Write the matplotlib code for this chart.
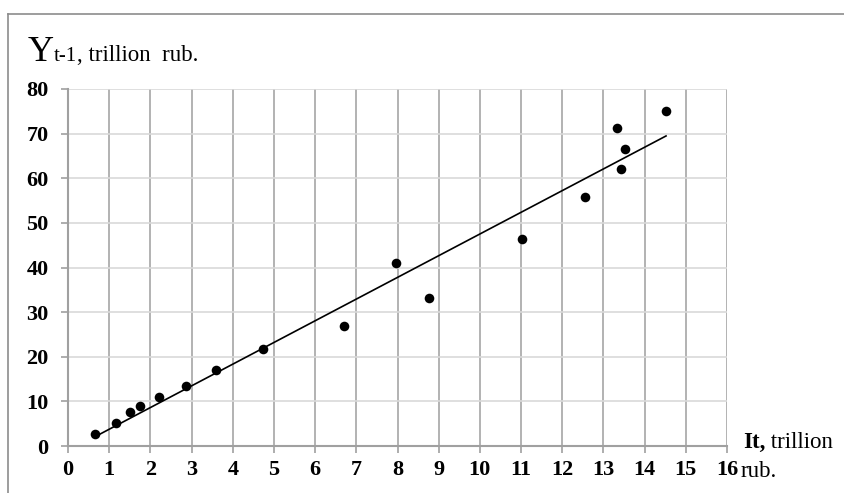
import numpy as np
import matplotlib
matplotlib.use("Agg")
import matplotlib.pyplot as plt
from matplotlib.lines import Line2D

# Data
x_vals = [0.66, 1.17, 1.50, 1.75, 2.20, 2.86, 3.60, 4.73, 6.70, 7.96, 8.76,
          11.02, 12.55, 13.33, 13.43, 13.52, 14.52]
y_vals = [2.7, 5.1, 7.6, 8.9, 10.9, 13.4, 17.0, 21.7, 27.0, 41.1, 33.1,
          46.3, 55.9, 71.3, 62.1, 66.6, 75.1]
x_ticks = list(range(0, 17))
y_ticks = list(range(0, 81, 10))

serif = ["Liberation Serif", "DejaVu Serif"]
W, H = 845, 493

fig = plt.figure(figsize=(8.45, 4.93), dpi=100)
ax = fig.add_axes([68 / W, 1 - 446 / H, (727 - 68) / W, (446 - 89) / H])

ax.set_xlim(0, 16)
ax.set_ylim(0, 80)

# grid
for xv in x_ticks[1:]:
    ax.axvline(xv, color="#a6a6a6", lw=1.2, zorder=1)
for yv in y_ticks[1:]:
    ax.axhline(yv, color="#d9d9d9", lw=1.2, zorder=1)

# trend line (least squares)
coef = np.polyfit(x_vals, y_vals, 1)
xs = np.array([min(x_vals), max(x_vals)])
ax.plot(xs, np.polyval(coef, xs), color="black", lw=1.2, zorder=3)

ax.scatter(x_vals, y_vals, s=48, color="black", zorder=4, linewidths=0)

for side in ["top", "right"]:
    ax.spines[side].set_visible(False)
for side in ["left", "bottom"]:
    ax.spines[side].set_color("#a0a0a0")
    ax.spines[side].set_linewidth(1.5)

ax.set_xticks(x_ticks)
ax.set_yticks(y_ticks)
ax.tick_params(axis="both", colors="#a0a0a0", length=5, width=1.2, labelcolor="black")
ax.tick_params(axis="x", pad=5)
ax.tick_params(axis="y", pad=9)
for lab in ax.get_xticklabels() + ax.get_yticklabels():
    lab.set_fontfamily(serif)
    lab.set_fontweight("bold")
    lab.set_fontsize(16)

fig.canvas.draw()
renderer = fig.canvas.get_renderer()


def chain(x_px, y_px, parts):
    x = x_px
    for s, size, weight in parts:
        t = fig.text(x / W, 1 - y_px / H, s, fontsize=size, family=serif,
                     fontweight=weight, va="baseline", ha="left")
        bb = t.get_window_extent(renderer)
        x = bb.x1


chain(28, 61, [("Y", 26, "normal"), ("t-1", 15, "normal"),
               (", trillion  rub.", 16.5, "normal")])
chain(743, 448, [("It,", 16.5, "bold"), (" trillion", 16.5, "normal")])
chain(741, 477, [("rub.", 16.5, "normal")])

# outer frame
fig.add_artist(Line2D([8 / W, 1.0], [1 - 13.5 / H, 1 - 13.5 / H],
                      transform=fig.transFigure, color="#8c8c8c", lw=1.2))
fig.add_artist(Line2D([8 / W, 8 / W], [1 - 13.5 / H, 0],
                      transform=fig.transFigure, color="#8c8c8c", lw=1.2))

fig.savefig("out.png", dpi=100)
